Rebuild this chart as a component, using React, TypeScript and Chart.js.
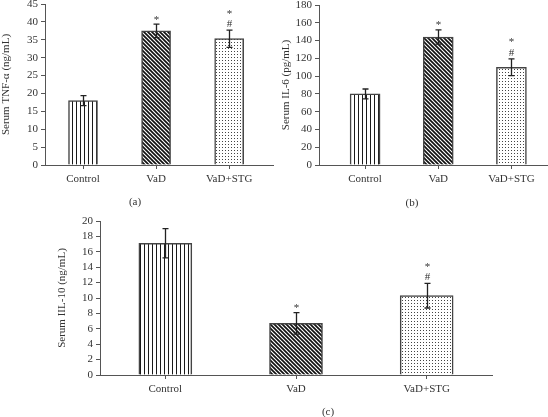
import React, { useEffect, useRef } from 'react';
import { Chart, registerables } from 'chart.js';

Chart.register(...registerables);

// ---------- data ----------
const categories = ['Control', 'VaD', 'VaD+STG'];

const tnfMeans = [18.0, 37.5, 35.3];
const tnfErrors = [1.4, 1.9, 2.4];
const tnfMarks = [[], ['*'], ['#', '*']]; // listed bottom-up

const il6Means = [80, 144, 110];
const il6Errors = [5.5, 8, 9.5];
const il6Marks = [[], ['*'], ['#', '*']];

const il10Means = [17.1, 6.7, 10.3];
const il10Errors = [1.9, 1.4, 1.6];
const il10Marks = [[], ['*'], ['#', '*']];

const tnfAxis = { max: 45, step: 5, title: 'Serum TNF-α (ng/mL)' };
const il6Axis = { max: 180, step: 20, title: 'Serum IL-6 (pg/mL)' };
const il10Axis = { max: 20, step: 2, title: 'Serum IIL-10 (ng/mL)' };

// ---------- styles ----------
const FONT = "'Liberation Serif', 'DejaVu Serif', 'Times New Roman', serif";
const TEXT = '#333';
const AXIS = '#555';

function makePattern(kind: string): CanvasPattern {
  const c = document.createElement('canvas');
  const size = kind === 'dots' ? 3 : 4;
  c.width = size;
  c.height = size;
  const g = c.getContext('2d')!;
  g.fillStyle = '#fff';
  g.fillRect(0, 0, size, size);
  if (kind === 'vertical') {
    g.fillStyle = '#1a1a1a';
    g.fillRect(0, 0, 1, size);
  } else if (kind === 'diagonal') {
    g.strokeStyle = '#111';
    g.lineWidth = 1.7;
    for (const k of [-4, 0, 4]) {
      g.beginPath();
      g.moveTo(k - 1, -1);
      g.lineTo(k + 5, 5);
      g.stroke();
    }
  } else {
    g.fillStyle = '#444';
    g.fillRect(0, 0, 1, 1);
  }
  return g.createPattern(c, 'repeat')!;
}

type Spec = {
  left: number;
  top: number;
  width: number;
  height: number;
  padding: { left: number; right: number; top: number; bottom: number };
  yWidth: number;
  xHeight: number;
  xMin: number;
  xMax: number;
  axis: { max: number; step: number; title: string };
  yTitlePad: number;
  barThickness: number;
  means: number[];
  errors: number[];
  marks: string[][];
  label: string;
  labelX: number;
  labelY: number;
};

const panels: Spec[] = [
  {
    left: 0, top: 0, width: 274, height: 215,
    padding: { left: 0, right: 1, top: 4, bottom: 0 },
    yWidth: 45, xHeight: 50, xMin: -0.52, xMax: 2.6,
    axis: tnfAxis, yTitlePad: 0, barThickness: 29,
    means: tnfMeans, errors: tnfErrors, marks: tnfMarks,
    label: '(a)', labelX: 135, labelY: 202,
  },
  {
    left: 274, top: 0, width: 274, height: 215,
    padding: { left: 0, right: 0, top: 5, bottom: 0 },
    yWidth: 45, xHeight: 50, xMin: -0.63, xMax: 2.5,
    axis: il6Axis, yTitlePad: 6, barThickness: 30,
    means: il6Means, errors: il6Errors, marks: il6Marks,
    label: '(b)', labelX: 138, labelY: 203,
  },
  {
    left: 0, top: 210, width: 548, height: 215,
    padding: { left: 50, right: 56, top: 11, bottom: 0 },
    yWidth: 50, xHeight: 50, xMin: -0.5, xMax: 2.5,
    axis: il10Axis, yTitlePad: 5.4, barThickness: 53,
    means: il10Means, errors: il10Errors, marks: il10Marks,
    label: '(c)', labelX: 328, labelY: 202,
  },
];

function Panel({ spec }: { spec: Spec }) {
  const ref = useRef<HTMLCanvasElement>(null);

  useEffect(() => {
    const canvas = ref.current!;
    const fills = [makePattern('vertical'), makePattern('diagonal'), makePattern('dots')];
    const font = { family: FONT, size: 11 };

    const overlay = {
      id: 'overlay',
      afterDatasetsDraw(chart: any) {
        const ctx = chart.ctx;
        const y = chart.scales.y;
        const meta = chart.getDatasetMeta(0);
        meta.data.forEach((bar: any, i: number) => {
          const m = spec.means[i];
          const e = spec.errors[i];
          const x = Math.round(bar.x) + 0.5;
          const yt = y.getPixelForValue(m + e);
          const yb = y.getPixelForValue(m - e);
          ctx.save();
          ctx.strokeStyle = '#222';
          ctx.lineWidth = 1.3;
          ctx.beginPath();
          ctx.moveTo(x, yt);
          ctx.lineTo(x, yb);
          ctx.moveTo(x - 3, yt);
          ctx.lineTo(x + 3, yt);
          ctx.moveTo(x - 3, yb);
          ctx.lineTo(x + 3, yb);
          ctx.stroke();
          ctx.font = `11px ${FONT}`;
          ctx.fillStyle = TEXT;
          ctx.textAlign = 'center';
          ctx.textBaseline = 'alphabetic';
          spec.marks[i].forEach((mk, j) => {
            const c = yt - 7 - 12 * j;
            const off = mk === '*' ? 0.51 * 11 : 0.34 * 11;
            ctx.fillText(mk, x, c + off);
          });
          ctx.restore();
        });
      },
      afterDraw(chart: any) {
        const ctx = chart.ctx;
        ctx.save();
        ctx.font = `11px ${FONT}`;
        ctx.fillStyle = TEXT;
        ctx.textAlign = 'center';
        ctx.textBaseline = 'middle';
        ctx.fillText(spec.label, spec.labelX, spec.labelY);
        ctx.restore();
      },
    };

    const chart = new Chart(canvas, {
      type: 'bar',
      data: {
        datasets: [
          {
            data: spec.means.map((v, i) => ({ x: i, y: v })),
            backgroundColor: fills,
            borderColor: '#444',
            borderWidth: 1.5,
            barThickness: spec.barThickness,
          } as any,
        ],
      },
      options: {
        animation: false,
        responsive: false,
        maintainAspectRatio: false,
        layout: { padding: spec.padding },
        plugins: {
          legend: { display: false },
          tooltip: { enabled: false },
          title: { display: false },
        },
        scales: {
          x: {
            type: 'linear',
            offset: false,
            min: spec.xMin,
            max: spec.xMax,
            afterBuildTicks: (s: any) => {
              s.ticks = categories.map((_, i) => ({ value: i }));
            },
            afterFit: (s: any) => {
              s.height = spec.xHeight;
              s.paddingLeft = 0;
              s.paddingRight = 0;
            },
            ticks: {
              callback: (v: any) => categories[v] ?? '',
              font,
              color: TEXT,
              padding: 4,
              maxRotation: 0,
              minRotation: 0,
              autoSkip: false,
            },
            grid: { offset: false, drawOnChartArea: false, drawTicks: true, tickLength: 4, color: AXIS },
            border: { display: true, color: AXIS, width: 1 },
          },
          y: {
            type: 'linear',
            min: 0,
            max: spec.axis.max,
            afterFit: (s: any) => {
              s.width = spec.yWidth;
              s.paddingTop = 0;
              s.paddingBottom = 0;
            },
            ticks: { stepSize: spec.axis.step, autoSkip: false, font, color: TEXT, padding: 3 },
            grid: { drawOnChartArea: false, drawTicks: true, tickLength: 4, color: AXIS },
            border: { display: true, color: AXIS, width: 1 },
            title: {
              display: true,
              text: spec.axis.title,
              font,
              color: TEXT,
              padding: { top: spec.yTitlePad, bottom: 0 },
            },
          },
        },
      } as any,
      plugins: [overlay],
    });
    return () => chart.destroy();
  }, [spec]);

  return (
    <canvas
      ref={ref}
      width={spec.width}
      height={spec.height}
      style={{
        position: 'absolute',
        left: spec.left,
        top: spec.top,
        width: spec.width,
        height: spec.height,
      }}
    />
  );
}

export default function App() {
  return (
    <div
      style={{
        position: 'fixed',
        left: 0,
        top: 0,
        width: 548,
        height: 417,
        overflow: 'hidden',
        background: '#fff',
      }}
    >
      {panels.map((p) => (
        <Panel key={p.label} spec={p} />
      ))}
    </div>
  );
}
